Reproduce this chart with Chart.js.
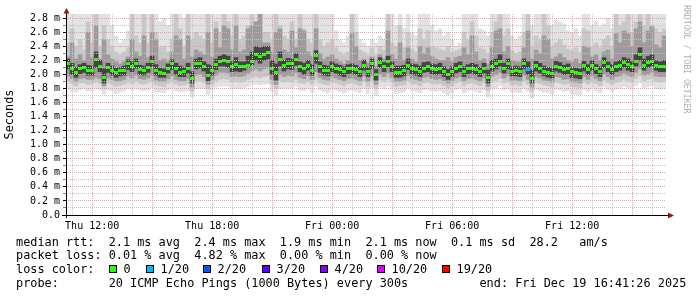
<!DOCTYPE html>
<html><head><meta charset="utf-8">
<script src="https://cdn.jsdelivr.net/npm/chart.js@4.4.1/dist/chart.umd.min.js"></script>
<style>
html,body{margin:0;padding:0;background:#fff;}
#wrap{position:relative;width:697px;height:297px;overflow:hidden;font-family:"DejaVu Sans Mono",monospace;color:#000;}
#c{position:absolute;left:0;top:0;}
.ln{position:absolute;left:16px;font-size:11.85px;line-height:14px;white-space:pre;}
.box{position:absolute;width:6px;height:6px;border:1px solid #000;}
#wm{position:absolute;left:682px;top:5px;writing-mode:vertical-rl;font-size:8.2px;line-height:10px;color:#b0b0b0;white-space:pre;}
</style></head>
<body><div id="wrap"><canvas id="c" width="697" height="297"></canvas>
<div id="wm">RRDTOOL / TOBI OETIKER</div>
<div class="ln" style="top:234.6px">median rtt:  2.1 ms avg  2.4 ms max  1.9 ms min  2.1 ms now  0.1 ms sd  28.2   am/s</div>
<div class="ln" style="top:248.3px">packet loss: 0.01 % avg  4.82 % max  0.00 % min  0.00 % now</div>
<div class="ln" style="top:262px">loss color:</div>
<div class="ln" style="top:275.7px">probe:       20 ICMP Echo Pings (1000 Bytes) every 300s          end: Fri Dec 19 16:41:26 2025</div>
</div>
<script>
// time axis: hours since Thu 00:00; samples every 12 minutes from Thu 10:41:26
const sampleStartHour = 10 + 41/60 + 26/3600;
const stepHours = 0.2;
const xTickHours = [12, 18, 24, 30, 36];
const xTickLabels = ['Thu 12:00', 'Thu 18:00', 'Fri 00:00', 'Fri 06:00', 'Fri 12:00'];

// all RTT values below in units of 0.01 ms
const medianRtt = [
216,208,203,208,210,206,206,222,212,196,
210,206,203,205,206,215,212,216,207,206,
210,219,206,203,202,209,215,208,203,204,
209,195,215,216,212,198,206,214,219,220,
218,211,214,212,212,213,219,228,225,229,
232,209,203,222,213,216,215,222,211,209,
213,206,227,211,206,205,211,209,207,204,
208,209,207,204,213,204,215,200,217,211,
219,211,203,203,205,213,208,207,204,209,
211,208,207,209,204,200,204,209,211,204,
208,209,207,204,209,196,212,215,219,209,
215,204,205,204,215,207,195,213,209,204,
203,202,212,210,207,209,204,203,202,213,
207,213,208,204,217,211,207,211,213,217,
214,211,219,228,213,217,219,213,211,212];

// loss per sample in pings out of 20
const lossPings = [
0,0,0,0,0,0,0,0,0,0, 0,0,0,0,0,0,0,0,0,0, 0,0,0,0,0,0,0,0,0,0,
0,0,0,0,0,0,0,0,0,0, 0,0,0,0,0,0,0,0,0,0, 0,0,0,0,0,0,0,0,0,0,
0,0,0,0,0,0,0,0,0,0, 0,0,0,0,0,0,0,0,0,0, 0,0,0,0,0,0,0,0,0,0,
0,0,0,0,0,0,0,0,0,0, 0,0,0,0,0,0,0,0,0,0, 0,0,0,0,0,1,0,0,0,0,
0,0,0,0,0,0,0,0,0,0, 0,0,0,0,0,0,0,0,0,0, 0,0,0,0,0,0,0,0,0,0];

// smoke: outermost pings (max / min)
const smokeMaxHi = [
290,290,290,290,290,290,290,290,290,290,
290,270,255,245,250,262,290,290,290,290,
290,290,290,275,280,270,290,290,290,280,
290,290,290,290,290,290,290,290,290,290,
290,290,290,290,290,290,290,290,290,290,
290,290,290,290,290,290,290,290,290,290,
290,290,290,290,290,290,290,262,250,245,
255,290,290,250,245,240,250,245,255,250,
290,290,270,290,265,290,260,255,290,290,
290,270,262,265,255,260,250,240,245,290,
290,290,290,265,262,255,290,290,290,290,
290,255,250,255,290,290,270,290,290,290,
290,270,278,275,272,262,260,265,255,290,
290,270,275,268,272,280,265,290,290,290,
290,290,290,290,290,290,290,290,290,290];
const smokeMinLo = [
180,176,175,178,180,177,178,180,178,172,
178,177,173,175,177,180,178,180,178,177,
178,181,176,175,174,178,180,177,175,176,
177,168,180,181,180,172,178,182,183,184,
183,179,180,180,181,183,185,186,185,186,
187,176,170,180,180,181,180,183,178,177,
180,175,183,178,176,174,179,178,176,174,
177,178,176,174,180,173,181,170,182,180,
183,179,173,174,175,181,177,176,174,178,
179,177,176,177,174,171,174,178,180,174,
177,178,176,174,178,168,179,181,184,178,
180,175,175,174,180,176,167,179,177,175,
174,172,179,178,176,177,173,172,171,179,
176,180,177,174,182,179,176,179,180,183,
181,179,184,188,181,183,184,180,179,180];
// second pair
const smokeP90Hi = [
245,265,240,250,235,275,245,290,240,270,
250,240,232,228,232,238,290,255,245,290,
245,290,260,238,240,232,250,290,265,240,
290,250,260,255,250,290,245,275,260,290,
275,255,290,250,255,270,290,275,290,260,
260,250,290,270,255,250,275,250,290,265,
250,245,290,250,240,245,250,238,232,228,
232,290,260,235,232,228,238,228,240,235,
290,245,240,270,238,260,236,232,265,250,
262,240,238,236,234,240,232,234,236,260,
250,275,255,238,236,230,260,275,290,255,
265,234,230,232,260,290,240,255,250,290,
270,240,245,250,242,236,234,238,232,265,
262,240,245,238,250,255,240,290,270,275,
290,260,275,290,270,290,270,265,260,265];
const smokeP10Lo = [
190,187,184,188,188,186,187,189,187,180,
188,186,183,184,186,189,187,190,187,186,
188,190,185,184,183,187,190,186,184,185,
187,176,190,191,189,180,186,191,193,194,
193,189,190,189,190,193,195,197,195,197,
198,186,180,191,189,190,189,193,188,187,
190,186,193,188,186,185,189,188,186,184,
187,188,186,184,190,183,191,180,192,190,
193,189,183,184,185,191,187,186,184,188,
189,187,186,187,184,181,184,188,190,184,
187,188,186,184,188,177,189,191,194,188,
190,185,185,184,190,186,176,189,187,185,
184,182,189,188,186,187,183,182,181,189,
186,190,187,184,192,189,186,189,190,193,
191,189,194,198,191,193,194,190,189,190];
// third pair
const smokeP75Hi = [
225,245,222,228,220,260,224,270,222,250,
228,222,218,215,218,225,250,232,226,255,
224,260,250,220,222,218,232,255,250,222,
255,225,235,232,228,260,225,265,238,270,
265,235,270,232,235,265,270,275,290,245,
245,232,260,265,235,232,262,238,265,262,
232,226,265,230,222,225,228,222,218,215,
220,258,240,220,222,216,225,212,228,222,
262,228,222,245,220,238,222,218,240,230,
238,226,222,220,220,224,218,224,226,238,
228,255,232,220,222,215,238,262,265,232,
240,220,218,218,238,262,222,235,230,255,
250,222,225,230,224,220,218,222,216,240,
238,225,228,220,232,235,222,258,245,262,
258,240,265,275,245,262,268,242,238,255];
const smokeP25Lo = [
198,194,190,194,195,193,193,196,194,184,
195,193,190,191,193,198,195,199,194,193,
195,199,192,190,190,194,198,193,191,191,
194,182,199,200,197,186,193,199,203,203,
202,197,198,197,198,202,205,208,205,208,
210,193,186,200,197,199,198,203,196,194,
198,193,204,196,193,192,197,195,193,191,
194,195,193,191,198,190,199,186,201,197,
202,196,190,190,192,199,194,193,191,196,
197,194,193,194,191,188,191,195,197,191,
194,195,193,191,195,183,197,200,203,195,
199,192,192,191,199,193,182,197,195,192,
191,189,197,196,193,194,190,189,188,197,
193,198,194,191,201,197,193,197,198,202,
199,197,203,208,199,201,203,198,197,197];
// inner pair
const smokeP60Hi = [
222,216,210,214,216,213,212,232,220,208,
216,212,209,210,212,221,218,222,213,212,
216,226,214,209,208,215,221,216,212,210,
216,204,222,224,218,214,212,222,226,228,
226,218,224,218,218,226,232,240,238,240,
240,220,215,232,220,223,222,230,218,216,
220,214,234,218,213,212,218,215,213,211,
214,215,213,210,220,210,222,207,224,217,
226,218,212,212,213,222,215,214,212,217,
218,215,214,216,211,207,211,216,218,211,
214,216,214,210,216,206,220,222,228,216,
222,211,212,211,222,218,206,219,216,212,
210,209,219,217,213,215,210,209,208,219,
214,220,214,211,224,218,214,218,220,224,
222,218,228,238,222,226,228,220,218,220];
const smokeP40Lo = [
208,200,196,201,203,199,199,210,204,188,
203,199,196,198,199,207,204,209,200,199,
203,211,199,196,196,202,207,200,197,197,
202,188,208,209,205,191,199,207,212,212,
210,204,205,204,206,210,214,220,216,220,
222,200,192,212,205,208,207,213,204,200,
206,199,216,203,199,198,204,202,199,197,
201,202,200,197,206,197,208,192,210,204,
211,204,196,196,198,207,201,199,197,203,
204,201,200,201,197,193,197,202,204,197,
201,202,200,197,202,188,205,208,212,202,
208,198,198,197,208,200,188,205,202,198,
196,195,205,203,200,201,196,195,194,205,
200,206,201,197,210,204,200,204,206,210,
206,204,212,220,206,210,212,206,204,204];

const lossSteps = [0, 1, 2, 3, 4, 10, 19];
const lossLabels = ['0', '1/20', '2/20', '3/20', '4/20', '10/20', '19/20'];
const lossColors = ['#26ff00', '#00b8ff', '#0059ff', '#5e00ff', '#7e00ff', '#dd00ff', '#ff0000'];
const legendBoxX = [109, 146, 203, 262, 320, 377, 442];

// legend row
const wrap = document.getElementById('wrap');
lossLabels.forEach((lab, k) => {
  const b = document.createElement('div');
  b.className = 'box';
  b.style.left = legendBoxX[k] + 'px';
  b.style.top = '264.5px';
  b.style.background = lossColors[k];
  wrap.appendChild(b);
  const t = document.createElement('div');
  t.className = 'ln';
  t.style.left = (legendBoxX[k] + 14.5) + 'px';
  t.style.top = '262px';
  t.textContent = lab;
  wrap.appendChild(t);
});

const xs = medianRtt.map((_, i) => sampleStartHour + stepHours * (i + 0.5));
const band = (lo, hi) => lo.map((v, i) => ({x: xs[i], y: [v / 100, hi[i] / 100]}));

function markImg(color) {
  const c = document.createElement('canvas');
  c.width = 4; c.height = 3;
  const g = c.getContext('2d');
  g.fillStyle = color; g.fillRect(0, 0, 4, 3);
  return c;
}
const markImgs = lossColors.map(markImg);
function lossColorIndex(p) {
  let k = 0;
  lossSteps.forEach((s, j) => { if (p >= s) k = j; });
  return k;
}

const barCommon = {type: 'bar', grouped: false, barPercentage: 1, categoryPercentage: 1, borderWidth: 0, clip: 0};

const arrowPlugin = {
  id: 'rrdAxes',
  afterDraw(chart) {
    const {ctx, chartArea: a} = chart;
    ctx.save();
    ctx.strokeStyle = '#000';
    ctx.lineWidth = 1;
    ctx.beginPath();
    ctx.moveTo(a.left + 0.5, a.bottom + 3);
    ctx.lineTo(a.left + 0.5, a.top - 1);
    ctx.moveTo(a.left - 4, a.bottom + 0.5);
    ctx.lineTo(a.right + 2, a.bottom + 0.5);
    ctx.stroke();
    ctx.fillStyle = '#8c1818';
    ctx.beginPath();
    ctx.moveTo(a.left - 2.5, a.top - 0.5);
    ctx.lineTo(a.left + 3.5, a.top - 0.5);
    ctx.lineTo(a.left + 0.5, a.top - 6);
    ctx.closePath(); ctx.fill();
    ctx.beginPath();
    ctx.moveTo(a.right + 2, a.bottom - 2.5);
    ctx.lineTo(a.right + 2, a.bottom + 3.5);
    ctx.lineTo(a.right + 8, a.bottom + 0.5);
    ctx.closePath(); ctx.fill();
    ctx.restore();
  }
};

const MAJOR = '#ee9a9a', MINOR = '#c4c4c4';
const monoFont = {family: 'DejaVu Sans Mono', size: 10};

new Chart(document.getElementById('c'), {
  type: 'bar',
  data: {
    datasets: [
      {type: 'line', label: 'median', order: 0, showLine: false, clip: 0,
       data: medianRtt.map((v, i) => ({x: xs[i], y: v / 100})),
       pointRadius: 2, pointStyle: (c) => markImgs[lossColorIndex(lossPings[c.dataIndex] || 0)]},
      Object.assign({label: 'inner', order: 1, backgroundColor: '#444444', data: band(smokeP40Lo, smokeP60Hi)}, barCommon),
      Object.assign({label: 'third', order: 2, backgroundColor: '#9c9c9c', data: band(smokeP25Lo, smokeP75Hi)}, barCommon),
      Object.assign({label: 'second', order: 3, backgroundColor: '#c8c8c8', data: band(smokeP10Lo, smokeP90Hi)}, barCommon),
      Object.assign({label: 'outer', order: 4, backgroundColor: '#e2e2e2', data: band(smokeMinLo, smokeMaxHi)}, barCommon)
    ]
  },
  options: {
    responsive: false, animation: false, devicePixelRatio: 1, events: [],
    layout: {padding: {top: 14, right: 31, bottom: 0, left: 0}},
    plugins: {legend: {display: false}, tooltip: {enabled: false}},
    scales: {
      x: {
        type: 'linear', offset: false,
        min: sampleStartHour, max: sampleStartHour + 30,
        afterBuildTicks: (s) => {
          const t = [];
          for (let h = Math.ceil(sampleStartHour); h <= sampleStartHour + 30; h++) t.push({value: h});
          s.ticks = t;
        },
        afterFit: (s) => { s.height = 82; },
        grid: {offset: false, z: 1, drawTicks: false, borderDash: [1, 1],
               color: (c) => (Math.round(c.tick.value) % 3 === 0 ? MAJOR : MINOR)},
        border: {display: false, dash: [1, 1]},
        ticks: {autoSkip: false, maxRotation: 0, padding: 5, color: '#000', font: monoFont,
                callback: (v) => { const k = xTickHours.indexOf(Math.round(v)); return k >= 0 ? xTickLabels[k] : ''; }}
      },
      y: {
        type: 'linear', min: 0, max: 2.861,
        afterBuildTicks: (s) => {
          const t = [];
          for (let k = 0; k <= 28; k++) t.push({value: k / 10});
          s.ticks = t;
        },
        afterFit: (s) => { s.width = 66; },
        grid: {z: 1, drawTicks: true, tickLength: 3, borderDash: [1, 1],
               color: (c) => (Math.round(c.tick.value * 10) % 2 === 0 ? MAJOR : MINOR),
               tickColor: (c) => (Math.round(c.tick.value * 10) % 2 === 0 ? '#000' : '#888')},
        border: {display: false, dash: [1, 1]},
        title: {display: true, text: 'Seconds', color: '#000', padding: {top: 3, bottom: 0},
                font: {family: 'DejaVu Sans Mono', size: 11.85}},
        ticks: {autoSkip: false, padding: 3, color: '#000', font: monoFont,
                callback: (v) => { const k = Math.round(v * 10); if (k % 2) return ''; return k === 0 ? '0.0' : (k / 10).toFixed(1) + ' m'; }}
      }
    }
  },
  plugins: [arrowPlugin]
});
</script>
</body></html>
